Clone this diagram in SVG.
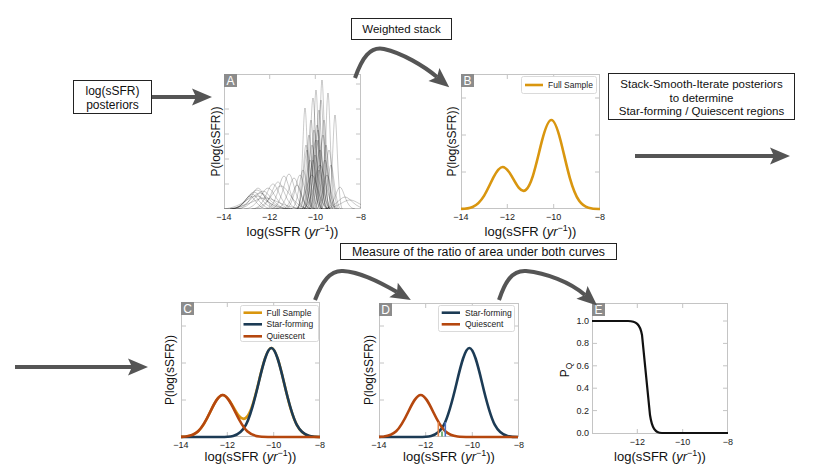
<svg xmlns="http://www.w3.org/2000/svg" width="830" height="467" viewBox="0 0 830 467">
<style>
text{font-family:"Liberation Sans",Arial,sans-serif;fill:#111}
.box{fill:#fff;stroke:#222;stroke-width:1}
.bt{font-size:11.5px;text-anchor:middle}
.fr{fill:#fff;stroke:#c4c4c4;stroke-width:1}
.tk{stroke:#c4c4c4;stroke-width:1}
.tl{font-size:9px;text-anchor:middle;fill:#222}
.tly{font-size:9px;text-anchor:end;fill:#222}
.xl{font-size:13px;text-anchor:middle}
.yl{font-size:12px;text-anchor:middle}
.pl{font-size:12px;text-anchor:middle;fill:#fff}
.pb{fill:#8c8c8c}
.lg{fill:#fff;stroke:#d0d0d0;stroke-width:0.8}
.lt{font-size:8.5px;fill:#222}
.full{fill:none;stroke:#d9960f;stroke-width:2.6}
.sf{fill:none;stroke:#1c3b55;stroke-width:2.6}
.q{fill:none;stroke:#b5470e;stroke-width:2.6}
.post path{fill:none;stroke:#000;stroke-opacity:0.3;stroke-width:0.7}
</style>
<defs>
<marker id="ah" markerUnits="userSpaceOnUse" markerWidth="24" markerHeight="20" viewBox="-5 -10 24 20" refX="0" refY="0" orient="auto" overflow="visible">
<path d="M16,0 L-4,-8.5 L0,0 L-4,8.5 Z" fill="#555" stroke="none"/>
</marker>
<clipPath id="clipA"><rect x="224" y="74" width="137" height="135"/></clipPath>
<path id="cFull" d="M0,-0.13 C3.86,-0.27 7.72,-0.47 11.58,-2.07 C15.44,-3.67 19.31,-7.06 23.17,-13.44 C26.26,-18.55 29.34,-25.59 32.43,-31.59 C35.52,-37.59 38.61,-42.06 41.7,-42.06 C44.79,-42.06 47.88,-37.78 50.97,-32.34 C53.29,-28.26 55.6,-23.81 57.92,-21.05 C60.24,-18.29 62.55,-17.26 64.87,-19.12 C67.19,-20.98 69.5,-25.76 71.82,-32.97 C74.91,-42.58 77.99,-56.71 81.08,-68.55 C84.17,-80.39 87.26,-89 90.35,-89 C93.44,-89 96.53,-80.34 99.62,-68.3 C102.71,-56.26 105.79,-41.79 108.88,-30.9 C111.97,-20.01 115.06,-12.6 118.15,-8.24 C121.24,-3.88 124.33,-2.2 127.42,-1.29 C131.28,-0.15 135.14,0 139,-0.06"/>
<path id="cQ" d="M0,-0.1 L4.86,-0.47 C8.95,-0.93 13.05,-1.89 17.14,-5.68 C21.23,-9.47 25.33,-16.98 29.42,-25.47 C33.51,-33.97 37.61,-42 41.7,-42 C45.79,-42 49.89,-33.97 53.98,-25.47 C58.07,-16.98 62.17,-9.47 66.26,-5.68 C70.35,-1.89 74.45,-0.93 78.54,-0.47 C82.63,0 86.73,0 90.82,0 L139,0"/>
<path id="cSF" d="M0,0 L39.39,0 C43.64,0 47.88,0 52.13,-0.99 C56.38,-1.98 60.62,-4.01 64.87,-12.04 C69.12,-20.07 73.36,-35.98 77.61,-53.98 C81.86,-71.97 86.1,-89 90.35,-89 C94.6,-89 98.84,-71.97 103.09,-53.98 C107.34,-35.98 111.58,-20.07 115.83,-12.04 C120.08,-4.01 124.32,-1.98 128.57,-0.99 C132.82,0 137.06,0 139,0"/>
</defs>
<rect width="830" height="467" fill="#fff"/>

<g id="box-posteriors">
<rect class="box" x="73.5" y="80.5" width="78" height="33"/>
<text class="bt" x="112.5" y="94.5" style="font-size:12px">log(sSFR)</text>
<text class="bt" x="112.5" y="108.5" style="font-size:12px">posteriors</text>
</g>
<g id="box-weighted">
<rect class="box" x="351.5" y="18.5" width="100" height="21"/>
<text class="bt" x="401.5" y="33">Weighted stack</text>
</g>
<g id="box-stack">
<rect class="box" x="608.5" y="73.5" width="186" height="46"/>
<text class="bt" x="701.5" y="87.5">Stack-Smooth-Iterate posteriors</text>
<text class="bt" x="701.5" y="101.5">to determine</text>
<text class="bt" x="701.5" y="114.5">Star-forming / Quiescent regions</text>
</g>
<g id="box-measure">
<rect class="box" x="340.5" y="243.5" width="276" height="16"/>
<text class="bt" x="478.5" y="255.5" style="font-size:12.3px">Measure of the ratio of area under both curves</text>
</g>

<g id="panel-A">
<rect class="fr" x="224.5" y="74.5" width="136" height="134"/>
<g class="post" clip-path="url(#clipA)">
<path d="M314.5,209C319,209 320.25,80 322,80C323.75,80 325,209 329.5,209"/>
<path d="M308.5,209C313,209 314.25,90 316,90C317.75,90 319,209 323.5,209"/>
<path d="M320.5,209C325,209 326.25,93 328,93C329.75,93 331,209 335.5,209"/>
<path d="M304,209C309.4,209 310.9,98 313,98C315.1,98 316.6,209 322,209"/>
<path d="M297.5,209C302,209 303.25,108 305,108C306.75,108 308,209 312.5,209"/>
<path d="M327.5,209C332,209 333.25,115 335,115C336.75,115 338,209 342.5,209"/>
<path d="M310,209C315.4,209 316.9,110 319,110C321.1,110 322.6,209 328,209"/>
<path d="M302,209C307.4,209 308.9,120 311,120C313.1,120 314.6,209 320,209"/>
<path d="M315,209C320.4,209 321.9,120 324,120C326.1,120 327.6,209 333,209"/>
<path d="M306.5,209C312.8,209 314.55,125 317,125C319.45,125 321.2,209 327.5,209"/>
<path d="M305,209C310.4,209 311.9,130 314,130C316.1,130 317.6,209 323,209"/>
<path d="M300,209C305.4,209 306.9,135 309,135C311.1,135 312.6,209 318,209"/>
<path d="M312.5,209C318.8,209 320.55,135 323,135C325.45,135 327.2,209 333.5,209"/>
<path d="M309,209C314.4,209 315.9,140 318,140C320.1,140 321.6,209 327,209"/>
<path d="M301.5,209C307.8,209 309.55,145 312,145C314.45,145 316.2,209 322.5,209"/>
<path d="M317,209C322.4,209 323.9,145 326,145C328.1,145 329.6,209 335,209"/>
<path d="M296.5,209C302.8,209 304.55,150 307,150C309.45,150 311.2,209 317.5,209"/>
<path d="M308,209C315.2,209 317.2,150 320,150C322.8,150 324.8,209 332,209"/>
<path d="M318.5,209C324.8,209 326.55,150 329,150C331.45,150 333.2,209 339.5,209"/>
<path d="M303,209C310.2,209 312.2,155 315,155C317.8,155 319.8,209 327,209"/>
<path d="M298,209C305.2,209 307.2,160 310,160C312.8,160 314.8,209 322,209"/>
<path d="M313,209C320.2,209 322.2,160 325,160C327.8,160 329.8,209 337,209"/>
<path d="M320.5,209C326.8,209 328.55,165 331,165C333.45,165 335.2,209 341.5,209"/>
<path d="M291,209C298.2,209 300.2,170 303,170C305.8,170 307.8,209 315,209"/>
<path d="M285,209C294,209 296.5,175 300,175C303.5,175 306,209 315,209"/>
<path d="M282,209C291,209 293.5,185 297,185C300.5,185 303,209 312,209"/>
<path d="M312,209C317.4,209 318.9,100 321,100C323.1,100 324.6,209 330,209"/>
<path d="M301,209C310,209 312.5,140 316,140C319.5,140 322,209 331,209"/>
<path d="M302,209C312.8,209 315.8,165 320,165C324.2,165 327.2,209 338,209"/>
<path d="M294,209C304.8,209 307.8,175 312,175C316.2,175 319.2,209 330,209"/>
<path d="M306,209C313.2,209 315.2,130 318,130C320.8,130 322.8,209 330,209"/>
<path d="M297,209C302.4,209 303.9,145 306,145C308.1,145 309.6,209 315,209"/>
<path d="M304,209C309.4,209 310.9,160 313,160C315.1,160 316.6,209 322,209"/>
<path d="M310,209C315.4,209 316.9,170 319,170C321.1,170 322.6,209 328,209"/>
<path d="M315,209C322.2,209 324.2,175 327,175C329.8,175 331.8,209 339,209"/>
<path d="M325,209C334,209 336.5,187 340,187C343.5,187 346,209 355,209"/>
<path d="M230,209C244.4,209 248.4,192 254,192C259.6,192 263.6,209 278,209"/>
<path d="M230,209C246.2,209 250.7,190 257,190C263.3,190 267.8,209 284,209"/>
<path d="M231,209C243.6,209 247.1,194 252,194C256.9,194 260.4,209 273,209"/>
<path d="M230,209C248,209 253,193 260,193C267,193 272,209 290,209"/>
<path d="M220,209C241.6,209 247.6,196 256,196C264.4,196 270.4,209 292,209"/>
<path d="M232,209C242.8,209 245.8,196 250,196C254.2,196 257.2,209 268,209"/>
<path d="M236,209C252.2,209 256.7,191 263,191C269.3,191 273.8,209 290,209"/>
<path d="M244,209C258.4,209 262.4,188 268,188C273.6,188 277.6,209 292,209"/>
<path d="M252,209C264.6,209 268.1,184 273,184C277.9,184 281.4,209 294,209"/>
<path d="M257,209C269.6,209 273.1,182 278,182C282.9,182 286.4,209 299,209"/>
<path d="M266,209C276.8,209 279.8,176 284,176C288.2,176 291.2,209 302,209"/>
<path d="M271,209C281.8,209 284.8,174 289,174C293.2,174 296.2,209 307,209"/>
<path d="M276,209C286.8,209 289.8,178 294,178C298.2,178 301.2,209 312,209"/>
<path d="M251,209C269,209 274,186 281,186C288,186 293,209 311,209"/>
<path d="M220,209C247,209 254.5,198 265,198C275.5,198 283,209 310,209"/>
<path d="M320,209C338,209 343,200 350,200C357,200 362,209 380,209"/>
<path d="M321,209C335.4,209 339.4,197 345,197C350.6,197 354.6,209 369,209"/>
<path d="M237,209C249.6,209 253.1,188 258,188C262.9,188 266.4,209 279,209"/>
</g>
<path class="tk" d="M269.7,75v4M315.3,75v4M269.7,208v-4M315.3,208v-4M225,184h4M225,159h4M225,134h4M225,109h4M225,84h4M360,184h-4M360,159h-4M360,134h-4M360,109h-4M360,84h-4"/>
<rect class="pb" x="224" y="74" width="13" height="13"/>
<text class="pl" x="230.5" y="85">A</text>
<text class="tl" x="224" y="220">−14</text>
<text class="tl" x="269.7" y="220">−12</text>
<text class="tl" x="315.3" y="220">−10</text>
<text class="tl" x="361" y="220">−8</text>
<text class="xl" x="292.5" y="236">log(sSFR (<tspan font-style="italic">yr</tspan><tspan font-size="9" dy="-5">−1</tspan><tspan dy="5">))</tspan></text>
<text class="yl" transform="translate(219.5,141.5) rotate(-90)">P(log(sSFR))</text>
</g>

<g id="panel-B">
<rect class="fr" x="461.5" y="74.5" width="138" height="134"/>
<path class="tk" d="M507.3,75v4M553.7,75v4M507.3,208v-4M553.7,208v-4M462,172h4M462,135h4M462,98h4M599,172h-4M599,135h-4M599,98h-4"/>
<use href="#cFull" class="full" transform="translate(461,209)"/>
<rect class="pb" x="461" y="74" width="13" height="13"/>
<text class="pl" x="467.5" y="85">B</text>
<rect class="lg" x="521.5" y="76.5" width="75" height="17" rx="2"/>
<line x1="525" y1="85" x2="543" y2="85" stroke="#d9960f" stroke-width="2.6"/>
<text class="lt" x="548" y="88">Full Sample</text>
<text class="tl" x="461" y="220">−14</text>
<text class="tl" x="507.3" y="220">−12</text>
<text class="tl" x="553.7" y="220">−10</text>
<text class="tl" x="600" y="220">−8</text>
<text class="xl" x="530.5" y="236">log(sSFR (<tspan font-style="italic">yr</tspan><tspan font-size="9" dy="-5">−1</tspan><tspan dy="5">))</tspan></text>
<text class="yl" transform="translate(455.5,141.5) rotate(-90)">P(log(sSFR))</text>
</g>

<g id="panel-C">
<rect class="fr" x="181.5" y="302.5" width="138" height="134"/>
<path class="tk" d="M227.3,303v4M273.7,303v4M227.3,436v-4M273.7,436v-4M182,400h4M182,363h4M182,326h4M319,400h-4M319,363h-4M319,326h-4"/>
<use href="#cFull" class="full" transform="translate(181,437)"/>
<use href="#cSF" class="sf" transform="translate(181,437)"/>
<use href="#cQ" class="q" transform="translate(181,437)"/>
<rect class="pb" x="181" y="302" width="13" height="13"/>
<text class="pl" x="187.5" y="313">C</text>
<rect class="lg" x="240.5" y="305.5" width="78" height="36" rx="2"/>
<line x1="243.5" y1="312.7" x2="262" y2="312.7" stroke="#d9960f" stroke-width="2.6"/>
<line x1="243.5" y1="324.3" x2="262" y2="324.3" stroke="#1c3b55" stroke-width="2.6"/>
<line x1="243.5" y1="336.3" x2="262" y2="336.3" stroke="#b5470e" stroke-width="2.6"/>
<text class="lt" x="266.5" y="315.7">Full Sample</text>
<text class="lt" x="266.5" y="327.3">Star-forming</text>
<text class="lt" x="266.5" y="339.3">Quiescent</text>
<text class="tl" x="181" y="447.5">−14</text>
<text class="tl" x="227.3" y="447.5">−12</text>
<text class="tl" x="273.7" y="447.5">−10</text>
<text class="tl" x="320" y="447.5">−8</text>
<text class="xl" x="250.5" y="461">log(sSFR (<tspan font-style="italic">yr</tspan><tspan font-size="9" dy="-5">−1</tspan><tspan dy="5">))</tspan></text>
<text class="yl" transform="translate(174,370) rotate(-90)">P(log(sSFR))</text>
</g>

<g id="panel-D">
<rect class="fr" x="379.5" y="303.5" width="139" height="133"/>
<path class="tk" d="M425.7,304v4M472.3,304v4M425.7,436v-4M472.3,436v-4M380,400h4M380,363h4M380,326h4M518,400h-4M518,363h-4M518,326h-4"/>
<use href="#cSF" class="sf" transform="translate(379,437)"/>
<use href="#cQ" class="q" transform="translate(379,437)"/>
<line x1="438.3" y1="436.5" x2="438.3" y2="422" stroke="#e0844a" stroke-width="1.6"/>
<line x1="442" y1="436.5" x2="442" y2="431.5" stroke="#55a05a" stroke-width="1.6"/>
<line x1="445.3" y1="436.5" x2="445.3" y2="422" stroke="#4a72c0" stroke-width="1.6"/>
<rect class="pb" x="379" y="303" width="13" height="13"/>
<text class="pl" x="385.5" y="314">D</text>
<rect class="lg" x="438.5" y="305.5" width="76" height="26" rx="2"/>
<line x1="441.7" y1="312.7" x2="460" y2="312.7" stroke="#1c3b55" stroke-width="2.6"/>
<line x1="441.7" y1="324.3" x2="460" y2="324.3" stroke="#b5470e" stroke-width="2.6"/>
<text class="lt" x="465" y="315.7">Star-forming</text>
<text class="lt" x="465" y="327.3">Quiescent</text>
<text class="tl" x="379" y="447.5">−14</text>
<text class="tl" x="425.7" y="447.5">−12</text>
<text class="tl" x="472.3" y="447.5">−10</text>
<text class="tl" x="519" y="447.5">−8</text>
<text class="xl" x="449" y="461">log(sSFR (<tspan font-style="italic">yr</tspan><tspan font-size="9" dy="-5">−1</tspan><tspan dy="5">))</tspan></text>
<text class="yl" transform="translate(373,370) rotate(-90)">P(log(sSFR))</text>
</g>

<g id="panel-E">
<rect class="fr" x="592.5" y="303.5" width="135" height="130"/>
<path class="tk" d="M637.3,304v4M682.7,304v4M637.3,433v-4M682.7,433v-4M593,410.6h4M593,388.2h4M593,365.8h4M593,343.4h4M593,321h4M727,410.6h-4M727,388.2h-4M727,365.8h-4M727,343.4h-4M727,321h-4"/>
<path d="M592,321 L628,321 C636,321 640,324 642,335 L650,415 C652,428 655,433 662,433 L728,433" fill="none" stroke="#111" stroke-width="2.2"/>
<rect class="pb" x="592" y="303" width="13" height="13"/>
<text class="pl" x="598.5" y="314">E</text>
<text class="tly" x="589" y="324">1.0</text>
<text class="tly" x="589" y="346.4">0.8</text>
<text class="tly" x="589" y="368.8">0.6</text>
<text class="tly" x="589" y="391.2">0.4</text>
<text class="tly" x="589" y="413.6">0.2</text>
<text class="tly" x="589" y="436">0.0</text>
<text class="tl" x="637.3" y="445">−12</text>
<text class="tl" x="682.7" y="445">−10</text>
<text class="tl" x="728" y="445">−8</text>
<text class="xl" x="660" y="461">log(sSFR (<tspan font-style="italic">yr</tspan><tspan font-size="9" dy="-5">−1</tspan><tspan dy="5">))</tspan></text>
<text class="yl" transform="translate(569,370) rotate(-90)">P<tspan font-size="8.5" dy="3">Q</tspan></text>
</g>

<g id="connectors" fill="none" stroke="#555" stroke-width="4">
<path d="M152,97 L196,97" marker-end="url(#ah)"/>
<path d="M355,78 C362,58 370,46 384,49 C402,53 424,66 437,77" marker-end="url(#ah)"/>
<path d="M635,156 L774,156" marker-end="url(#ah)"/>
<path d="M15,367 L132,367" marker-end="url(#ah)"/>
<path d="M315,300 C322,282 330,270 343,271 C360,272 378,281 397,292" marker-end="url(#ah)"/>
<path d="M499,300 C505,282 512,270 526,271 C546,273 570,282 585,295" marker-end="url(#ah)"/>
</g>
</svg>
